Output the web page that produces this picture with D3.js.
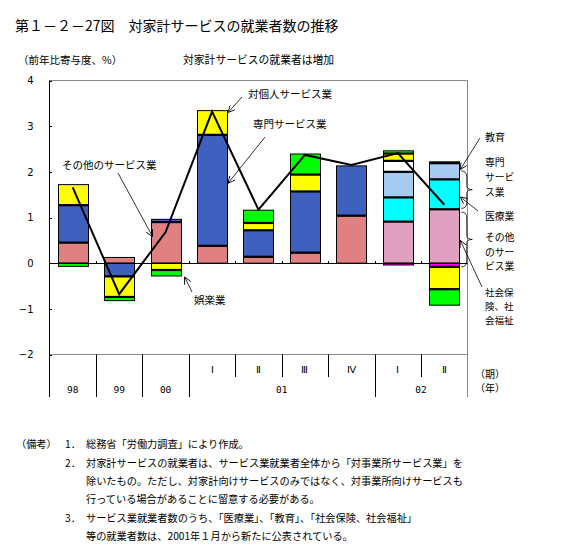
<!DOCTYPE html>
<html><head><meta charset="utf-8">
<script src="https://cdn.jsdelivr.net/npm/d3@7"></script>
<style>
body{margin:0;background:#fff;}
text{font-family:"Noto Sans CJK JP","Noto Sans",sans-serif;fill:#000;}
</style></head>
<body>
<svg id="c" width="561" height="559"></svg>
<script>
// ---- data ----
const categories = ["98","99","00","01-I","01-II","01-III","01-IV","02-I","02-II"];
const quarterLabels = ["","","","Ⅰ","Ⅱ","Ⅲ","Ⅳ","Ⅰ","Ⅱ"];
const yearGroups = [
  {label:"98", from:0, to:1},
  {label:"99", from:1, to:2},
  {label:"00", from:2, to:3},
  {label:"01", from:3, to:7},
  {label:"02", from:7, to:9}
];
const sonota      = [0.45, 0.125, 0.90, 0.38, 0.14, 0.23, 1.04, 0, 0];      // その他のサービス業
const shakai      = [0, 0, 0, 0, 0, 0, 0, 0.91, 1.18];                       // 社会保険、社会福祉
const sonotaRest  = [0, 0, 0, 0, 0, 0, 0, -0.04, -0.08];                     // その他（2002）
const senmon      = [0.82, -0.29, 0.06, 2.43, 0.58, 1.34, 1.09, 0, 0];      // 専門サービス業
const iryo        = [0, 0, 0, 0, 0, 0, 0, 0.53, 0.655];                      // 医療業
const senmonRest  = [0, 0, 0, 0, 0, 0, 0, 0.56, 0.355];                      // 専門（2002）
const kyoiku      = [0, 0, 0, 0, 0, 0, 0, 0.24, 0.03];                       // 教育
const kojin       = [0.45, -0.45, -0.15, 0.53, 0.16, 0.37, 0, 0.16, -0.49]; // 対個人サービス業
const goraku      = [-0.07, -0.08, -0.13, 0, 0.28, 0.45, 0, 0.06, -0.35];   // 娯楽業
const total       = [1.66, -0.68, 0.68, 3.32, 1.17, 2.37, 2.15, 2.41, 1.28]; // 対家計サービス計
const yTicks = [-2, -1, 0, 1, 2, 3, 4];

const seriesDefs = [
  {key:"sonota", values:sonota, color:"#e08080"},
  {key:"shakai", values:shakai, color:"#e0a0c0"},
  {key:"sonotaRest", values:sonotaRest, color:"#ff00ff"},
  {key:"senmon", values:senmon, color:"#4060c0"},
  {key:"iryo", values:iryo, color:"#00ffff"},
  {key:"senmonRest", values:senmonRest, color:"#a6caf0"},
  {key:"kyoiku", values:kyoiku, color:"#ffffff"},
  {key:"kojin", values:kojin, color:"#ffff00"},
  {key:"goraku", values:goraku, color:"#00ff00"}
];

const table = categories.map((c,i)=>{
  const o = {cat:c};
  seriesDefs.forEach(s=>o[s.key]=s.values[i]);
  return o;
});

const svg = d3.select("#c");
const pLeft = 49.5, pRight = 467.5, pTop = 80.5, pBottom = 354.5, catBottom = 397, qBottom = 377;

const x = d3.scaleBand().domain(categories).range([pLeft, pRight]).paddingInner(0.354).paddingOuter(0.177);
const y = d3.scaleLinear().domain([-2, 4]).range([pBottom, pTop]);
const step = x.step();
const bx = i => pLeft + i*step;

// frame
svg.append("line").attr("x1",pLeft).attr("x2",pRight).attr("y1",pTop).attr("y2",pTop).attr("stroke","#888").attr("stroke-width",1);
svg.append("line").attr("x1",pLeft).attr("x2",pRight).attr("y1",pBottom).attr("y2",pBottom).attr("stroke","#888").attr("stroke-width",1);
svg.append("line").attr("x1",pRight).attr("x2",pRight).attr("y1",pTop).attr("y2",catBottom).attr("stroke","#888").attr("stroke-width",1);

// y axis
const yAxis = d3.axisLeft(y).tickValues(yTicks).tickSize(0).tickPadding(16).tickFormat(d3.format("d"));
const ya = svg.append("g").attr("transform",`translate(${pLeft},0)`).call(yAxis);
ya.select(".domain").remove();
ya.selectAll("text").style("font-family","'DejaVu Sans',sans-serif").style("font-size","10px");
svg.append("g").selectAll("line").data(yTicks).join("line")
  .attr("x1",pLeft).attr("x2",pLeft+2.5).attr("y1",d=>Math.round(y(d))+0.5).attr("y2",d=>Math.round(y(d))+0.5)
  .attr("stroke","#000");
svg.append("line").attr("x1",pLeft).attr("x2",pLeft).attr("y1",pTop).attr("y2",catBottom).attr("stroke","#000");

// stacked bars
const stack = d3.stack().keys(seriesDefs.map(s=>s.key)).offset(d3.stackOffsetDiverging);
const stacked = stack(table);
const gBars = svg.append("g");
stacked.forEach((layer,li)=>{
  const col = seriesDefs[li].color;
  const segs = layer.map((d,i)=>({d, i, v: table[i][layer.key]})).filter(s=>s.v!==0);
  gBars.selectAll(null).data(segs).join("rect")
    .attr("x",s=>Math.round(x(categories[s.i]))+0.5)
    .attr("width",Math.round(x.bandwidth()))
    .attr("y",s=>y(Math.max(s.d[0],s.d[1])))
    .attr("height",s=>Math.abs(y(s.d[0])-y(s.d[1])))
    .attr("fill",col).attr("stroke","#000").attr("stroke-width",1);
});
// thick dividers between segments
stacked.forEach(layer=>{
  const segs = layer.map((d,i)=>({d, i, v: table[i][layer.key]})).filter(s=>s.v!==0);
  segs.forEach(s=>{
    const inner = s.v>0 ? s.d[0] : s.d[1];
    if (Math.abs(inner) > 1e-9) {
      gBars.append("line")
        .attr("x1",Math.round(x(categories[s.i]))+0.5).attr("x2",Math.round(x(categories[s.i]))+0.5+Math.round(x.bandwidth()))
        .attr("y1",y(inner)).attr("y2",y(inner)).attr("stroke","#000").attr("stroke-width",2.2);
    }
  });
});

// zero line and ticks
const y0 = Math.round(y(0))+0.5;
svg.append("line").attr("x1",pLeft).attr("x2",pRight).attr("y1",y0).attr("y2",y0).attr("stroke","#000");
svg.append("g").selectAll("line").data(d3.range(1,9)).join("line")
  .attr("x1",i=>Math.round(bx(i))+0.5).attr("x2",i=>Math.round(bx(i))+0.5).attr("y1",y0).attr("y2",y0-2.5).attr("stroke","#000");

// total line
const line = d3.line().x((d,i)=>x(categories[i])+x.bandwidth()/2).y(d=>y(d));
svg.append("path").datum(total).attr("d",line).attr("fill","none").attr("stroke","#000").attr("stroke-width",2);

// category separators
const longB = [1,2,3,7], shortB = [4,5,6,8];
svg.append("g").selectAll("line").data(longB).join("line")
  .attr("x1",i=>Math.round(bx(i))+0.5).attr("x2",i=>Math.round(bx(i))+0.5).attr("y1",pBottom).attr("y2",catBottom).attr("stroke","#000");
svg.append("g").selectAll("line").data(shortB).join("line")
  .attr("x1",i=>Math.round(bx(i))+0.5).attr("x2",i=>Math.round(bx(i))+0.5).attr("y1",pBottom).attr("y2",qBottom).attr("stroke","#000");
svg.append("g").selectAll("text").data(quarterLabels.map((q,i)=>({q,i})).filter(d=>d.q)).join("text")
  .attr("x",d=>x(categories[d.i])+x.bandwidth()/2).attr("y",369).attr("dy","0.35em")
  .attr("text-anchor","middle").style("font-family","'Liberation Serif',serif").style("font-size","10px").text(d=>d.q);
svg.append("g").selectAll("text").data(yearGroups).join("text")
  .attr("x",d=>(bx(d.from)+bx(d.to))/2).attr("y",390).attr("dy","0.35em")
  .attr("text-anchor","middle").style("font-family","'DejaVu Sans Mono',monospace").style("font-size","9.5px").text(d=>d.label);
svg.append("text").attr("x",475).attr("y",374.5).attr("dy","0.35em").style("font-size","10px").text("（期）");
svg.append("text").attr("x",475).attr("y",388).attr("dy","0.35em").style("font-size","10px").text("（年）");

// titles
svg.append("text").attr("x",15).attr("y",26).attr("dy","0.35em").style("font-size","14px").text("第１－２－27図　対家計サービスの就業者数の推移");
svg.append("text").attr("x",18).attr("y",60).attr("dy","0.35em").style("font-size","10.5px").text("（前年比寄与度、%）");
svg.append("text").attr("x",183).attr("y",60).attr("dy","0.35em").style("font-size","10.8px").text("対家計サービスの就業者は増加");

// annotations
const defs = svg.append("defs");
defs.append("marker").attr("id","arr").attr("viewBox","0 0 10 10").attr("refX",10).attr("refY",5)
  .attr("markerWidth",7).attr("markerHeight",7).attr("orient","auto-start-reverse").attr("markerUnits","userSpaceOnUse")
  .append("path").attr("d","M0,0 L10,5 L0,10").attr("fill","none").attr("stroke","#000").attr("stroke-width",1.2);
const arrow = (x1,y1,x2,y2)=>svg.append("line").attr("x1",x1).attr("y1",y1).attr("x2",x2).attr("y2",y2)
  .attr("stroke","#000").attr("stroke-width",0.8).attr("marker-end","url(#arr)");
const label = (tx,ty,t,fs)=>svg.append("text").attr("x",tx).attr("y",ty).attr("dy","0.35em").style("font-size",(fs||10.5)+"px").text(t);
const bw = x.bandwidth();
const c3 = x("01-I"), c2 = x("00"), c8 = x("02-II");

label(248,94,"対個人サービス業");
arrow(242,97,c3+bw+1,y(3.30));
label(253,124,"専門サービス業");
arrow(265,137,c3+bw+1,y(1.75));
label(62,165,"その他のサービス業");
arrow(118,173,c2+2,y(0.58));
label(194,300,"娯楽業");
arrow(192,292,c2+bw+4,y(-0.3));

const rx = c8+bw; // right edge of last bar
label(485,137,"教育",10);
arrow(480,138,rx+1,y(2.05));
label(485,163,"専門",9.8);
label(485,178,"サービ",9.8);
label(485,193,"ス業",9.8);
label(485,217,"医療業",9.8);
arrow(478,211,rx+1,y(1.45));
label(485,238,"その他",9.8);
label(485,252.5,"のサー",9.8);
label(485,267,"ビス業",9.8);
label(485,292.5,"社会保",9.5);
label(485,306.5,"険、社",9.5);
label(485,320.5,"会福祉",9.5);
arrow(482,287,rx+1,y(0.5));

// braces
function brace(xa, ya, yb, w){
  const ym = (ya+yb)/2;
  const p = d3.path();
  p.moveTo(xa, ya);
  p.quadraticCurveTo(xa+w*0.5, ya, xa+w*0.5, ya+6);
  p.lineTo(xa+w*0.5, ym-4);
  p.quadraticCurveTo(xa+w*0.5, ym, xa+w, ym);
  p.quadraticCurveTo(xa+w*0.5, ym, xa+w*0.5, ym+4);
  p.lineTo(xa+w*0.5, yb-6);
  p.quadraticCurveTo(xa+w*0.5, yb, xa, yb);
  svg.append("path").attr("d",p.toString()).attr("fill","none").attr("stroke","#000").attr("stroke-width",0.8);
}
brace(rx+2, y(2.02), y(1.2), 11);
brace(rx+2, y(1.12), y(-0.08), 11);

// notes
const fs = "10.2px";
svg.append("text").attr("x",16).attr("y",444).attr("dy","0.35em").style("font-size",fs).text("（備考）");
const noteNums = [{n:"1．", y:444},{n:"2．", y:463},{n:"3．", y:518}];
svg.append("g").selectAll("text").data(noteNums).join("text")
  .attr("x",65).attr("y",d=>d.y).attr("dy","0.35em").style("font-size",fs).text(d=>d.n);
const notes = [
  {y:444, t:"総務省「労働力調査」により作成。"},
  {y:463, t:"対家計サービスの就業者は、サービス業就業者全体から「対事業所サービス業」を"},
  {y:481, t:"除いたもの。ただし、対家計向けサービスのみではなく、対事業所向けサービスも"},
  {y:499.5, t:"行っている場合があることに留意する必要がある。"},
  {y:518, t:"サービス業就業者数のうち、「医療業」、「教育」、「社会保険、社会福祉」"},
  {y:536, t:"等の就業者数は、2001年１月から新たに公表されている。"}
];
svg.append("g").selectAll("text").data(notes).join("text")
  .attr("x",86).attr("y",d=>d.y).attr("dy","0.35em").style("font-size",fs).text(d=>d.t);
</script>
</body></html>
